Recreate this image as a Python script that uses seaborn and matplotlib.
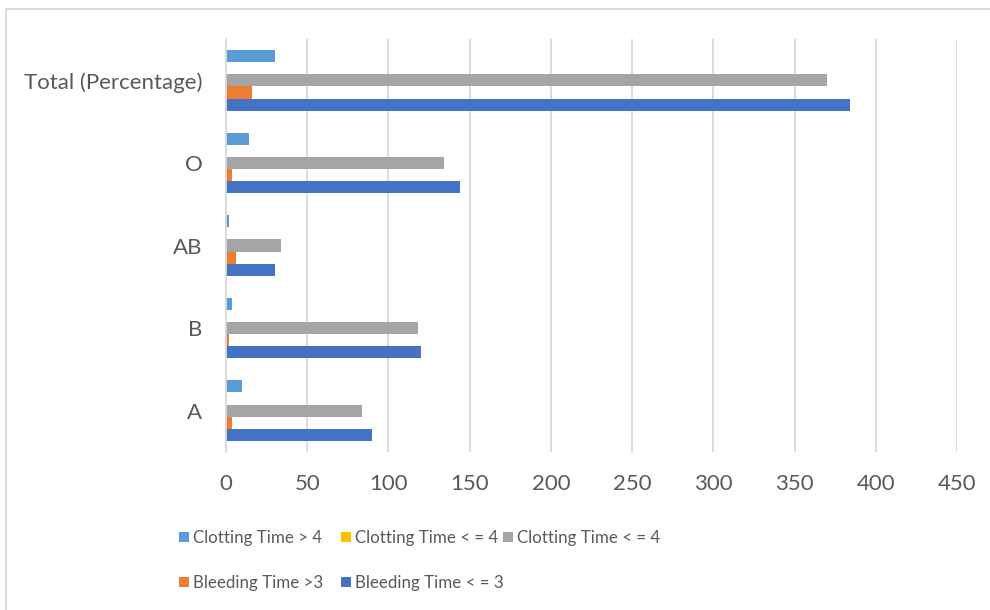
import numpy as np
import pandas as pd
import seaborn as sns
import matplotlib
matplotlib.use("Agg")
import matplotlib.pyplot as plt
from matplotlib.lines import Line2D
from matplotlib.patches import Patch

categories = ["Total (Percentage)", "O", "AB", "B", "A"]
clotting_gt4 = [30, 14, 2, 4, 10]
clotting_le4_yellow = [0, 0, 0, 0, 0]
clotting_le4_gray = [370, 134, 34, 118, 84]
bleeding_gt3 = [16, 4, 6, 2, 4]
bleeding_le3 = [384, 144, 30, 120, 90]

series_labels = ["Clotting Time > 4", "Clotting Time < = 4", "Clotting Time < = 4",
                 "Bleeding Time >3", "Bleeding Time < = 3"]
series_keys = ["ct_gt4", "ct_le4_y", "ct_le4_g", "bt_gt3", "bt_le3"]
series_values = [clotting_gt4, clotting_le4_yellow, clotting_le4_gray, bleeding_gt3, bleeding_le3]
colors = ["#5B9BD5", "#FFC000", "#A5A5A5", "#ED7D31", "#4472C4"]
xticks = [0, 50, 100, 150, 200, 250, 300, 350, 400, 450]

rows = []
for key, vals in zip(series_keys, series_values):
    for c, v in zip(categories, vals):
        rows.append({"category": c, "series": key, "value": v})
df = pd.DataFrame(rows)

sns.set_theme(style="white")
plt.rcParams["font.family"] = ["Lato", "DejaVu Sans"]
text_color = "#595959"
fs, lfs = 16, 12.2

fig = plt.figure(figsize=(9.9, 6.1), dpi=100)
ax = fig.add_axes([226/990, 1-452/610, (957-226)/990, (452-39)/610])

sns.barplot(data=df, x="value", y="category", hue="series", order=categories,
            hue_order=series_keys, palette=colors, saturation=1, orient="h", width=0.735,
            linewidth=0, ax=ax, legend=False, errorbar=None)

ax.set_xlim(0, 450)
ax.set_xticks(xticks)
ax.set_xticklabels([str(t) for t in xticks])
ax.set_xlabel("")
ax.set_ylabel("")
ax.xaxis.grid(True, color="#D9D9D9", linewidth=1.3)
ax.yaxis.grid(False)
ax.set_axisbelow(True)
for s in ["top", "right", "bottom"]:
    ax.spines[s].set_visible(False)
ax.spines["left"].set_color("#D9D9D9")
ax.spines["left"].set_linewidth(1.3)
ax.tick_params(axis="both", length=0, labelsize=fs, colors=text_color)
ax.tick_params(axis="x", pad=16)
ax.tick_params(axis="y", pad=17)

# legend entries placed like the original (row-wise)
positions = [(179, 538), (341, 538), (503, 538), (179, 583), (341, 583)]
hl = 7.3 / lfs
for lab, col, (px, py) in zip(series_labels, colors, positions):
    h = Patch(facecolor=col, edgecolor="none")
    leg = fig.legend([h], [lab], loc="center left", bbox_to_anchor=(px/990, 1-py/610),
                     frameon=False, borderpad=0, borderaxespad=0, handlelength=hl,
                     handleheight=hl, handletextpad=3.0/lfs, fontsize=lfs)
    for t in leg.get_texts():
        t.set_color(text_color)

# chart border (left and top visible)
fig.add_artist(Line2D([6/990, 6/990], [0, 1-9/610], color="#D9D9D9", lw=1.3))
fig.add_artist(Line2D([6/990, 1], [1-9/610, 1-9/610], color="#D9D9D9", lw=1.3))

fig.savefig("out.png", dpi=100)
